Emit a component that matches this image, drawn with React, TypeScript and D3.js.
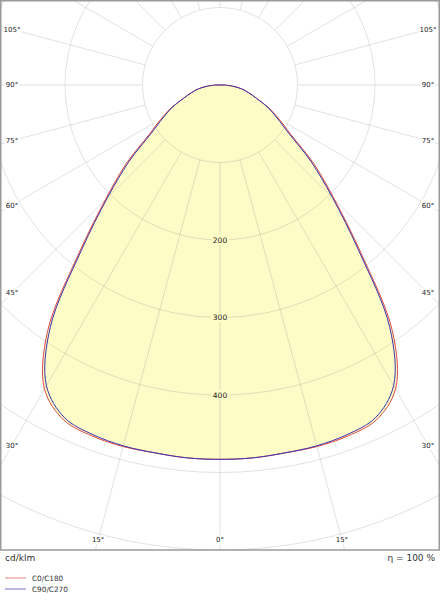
import React from 'react';
import * as d3 from 'd3';

// half profiles, gamma 0..90 step 5 (cd/klm)
const gammas = [0, 5, 10, 15, 20, 25, 30, 35, 40, 45, 50, 55, 60, 65, 70, 75, 80, 85, 90];
const c0c180 = [483, 483, 482, 483, 482, 477, 453, 388, 283, 209, 158, 112, 88, 69, 50, 38, 28, 16, 6];
const c90c270 = [483, 483, 482, 482, 480, 474, 448, 382, 278, 205, 153, 108, 85, 68, 50, 38, 28, 16, 6];

const rings = [100, 200, 300, 400, 500, 600];
const ringLabels = [200, 300, 400];
const spokes = d3.range(0, 360, 15);
const angleLabels = [0, 15, 30, 45, 60, 75, 90, 105];

const W = 440;
const H = 550;
const cx = 220;
const cy = 85;
const FILL = '#fdfbc6';
const RED = '#e04a48';
const BLUE = '#3b32b0';
const font = '"DejaVu Sans", Verdana, sans-serif';

export default function App() {
  const r = d3.scaleLinear().domain([0, 600]).range([0, 465]);

  // mirror the half profile onto both sides (gamma from nadir)
  const full = (vals: number[]) => {
    const pts: [number, number][] = [];
    for (let i = gammas.length - 1; i >= 0; i--) pts.push([-gammas[i], vals[i]]);
    for (let i = 1; i < gammas.length; i++) pts.push([gammas[i], vals[i]]);
    return pts;
  };

  const line = d3.lineRadial<[number, number]>()
    .angle(d => Math.PI - (d[0] * Math.PI) / 180)
    .radius(d => r(d[1]))
    .curve(d3.curveCatmullRom);

  const redPath = line(full(c0c180)) + 'Z';
  const bluePath = line(full(c90c270)) + 'Z';

  // where a spoke meets the inset frame -> label position
  const labelPos = (a: number, side: number) => {
    const rad = (a * Math.PI) / 180;
    const sx = Math.sin(rad) * side;
    const sy = Math.cos(rad);
    const tx = Math.abs(sx) > 1e-6 ? (side < 0 ? (12 - cx) / sx : (428 - cx) / sx) : Infinity;
    const ty = sy > 1e-6 ? (540 - cy) / sy : Infinity;
    const t = Math.min(tx, ty);
    return [cx + sx * t, cy + sy * t];
  };

  const labels: { x: number; y: number; text: string }[] = [];
  angleLabels.forEach(a => {
    const [lx, ly] = labelPos(a, -1);
    labels.push({ x: lx, y: ly, text: a + '°' });
    if (a > 0) {
      const [rx, ry] = labelPos(a, 1);
      labels.push({ x: rx, y: ry, text: a + '°' });
    }
  });

  return (
    <svg width={W} height={600} style={{ position: 'absolute', left: 0, top: 0, background: '#fff' }}>
      <defs>
        <clipPath id="frame">
          <rect x={0} y={0} width={W} height={H} />
        </clipPath>
      </defs>
      <g clipPath="url(#frame)">
        <g transform={`translate(${cx},${cy})`}>
          <path d={redPath} fill={FILL} stroke="none" />
          <path d={bluePath} fill={FILL} stroke="none" />
          {spokes.map(a => {
            const rad = (a * Math.PI) / 180;
            return (
              <line key={a}
                x1={Math.sin(rad) * r(100)} y1={Math.cos(rad) * r(100)}
                x2={Math.sin(rad) * r(800)} y2={Math.cos(rad) * r(800)}
                stroke="#8a8a8a" strokeOpacity={0.25} strokeWidth={1} />
            );
          })}
          {rings.map(v => (
            <circle key={v} r={r(v)} fill="none" stroke="#8a8a8a" strokeOpacity={0.25} strokeWidth={1} />
          ))}
          {ringLabels.map(v => (
            <g key={v} transform={`translate(0,${r(v)})`}>
              <rect x={-9} y={-5} width={18} height={10} fill={FILL} />
              <text textAnchor="middle" dy="0.35em" fontFamily={font} fontSize={7.5} fill="#222">{v}</text>
            </g>
          ))}
          <path d={redPath} fill="none" stroke={RED} strokeWidth={1} />
          <path d={bluePath} fill="none" stroke={BLUE} strokeWidth={1} />
        </g>
        {labels.map((l, i) => (
          <g key={i} transform={`translate(${l.x},${l.y})`}>
            <rect x={-l.text.length * 2.4} y={-4.5} width={l.text.length * 4.8} height={9} fill="#fff" />
            <text textAnchor="middle" dy="0.35em" fontFamily={font} fontSize={7} fill="#222">{l.text}</text>
          </g>
        ))}
      </g>
      <rect x={0.75} y={0.75} width={W - 1.5} height={H - 0.75} fill="none" stroke="#9a9a9a" strokeWidth={1.5} />
      <text x={5} y={558} dy="0.35em" fontFamily={font} fontSize={9} fill="#333">cd/klm</text>
      <text x={435} y={558} dy="0.35em" textAnchor="end" fontFamily={font} fontSize={9} fill="#333">η = 100 %</text>
      <line x1={5} x2={26} y1={578} y2={578} stroke={RED} strokeOpacity={0.7} strokeWidth={1} />
      <text x={32} y={578} dy="0.35em" fontFamily={font} fontSize={7.3} fill="#333">C0/C180</text>
      <line x1={5} x2={26} y1={589} y2={589} stroke={BLUE} strokeOpacity={0.7} strokeWidth={1} />
      <text x={32} y={589} dy="0.35em" fontFamily={font} fontSize={7.3} fill="#333">C90/C270</text>
    </svg>
  );
}
